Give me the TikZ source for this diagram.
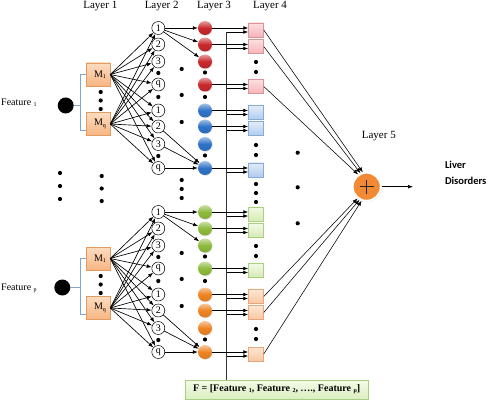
\documentclass[tikz,border=0pt]{standalone}
\usepackage{fontspec}
\setmainfont{Liberation Serif}
\newfontfamily\calib{Carlito}
\usetikzlibrary{arrows.meta,calc,shadows}
\newcommand{\sbs}[1]{\raisebox{-1.3pt}{\fontsize{6}{6}\selectfont #1}}
\definecolor{mbd}{HTML}{E39B63}
\definecolor{mbt}{HTML}{FCDCC0}
\definecolor{mbb}{HTML}{F7B683}
\definecolor{brkc}{HTML}{7EA6D0}
\definecolor{rball}{HTML}{C8282C}
\definecolor{bball}{HTML}{2F73C8}
\definecolor{gball}{HTML}{8DBA3C}
\definecolor{oball}{HTML}{EE8422}
\definecolor{rsd}{HTML}{D9939A}
\definecolor{rst}{HTML}{FCE0E2}
\definecolor{rsb}{HTML}{F5B3B8}
\definecolor{bsd}{HTML}{88AADB}
\definecolor{bst}{HTML}{E1ECFA}
\definecolor{bsb}{HTML}{B2CBEE}
\definecolor{gsd}{HTML}{AACF7E}
\definecolor{gst}{HTML}{F2F9E6}
\definecolor{gsb}{HTML}{D6EBB6}
\definecolor{osd}{HTML}{E9A779}
\definecolor{ost}{HTML}{FDE6D5}
\definecolor{osb}{HTML}{F8C7A2}
\definecolor{lfive}{HTML}{F28A35}
\definecolor{fbd}{HTML}{A6CF82}
\definecolor{fbt}{HTML}{F3FAE6}
\definecolor{fbb}{HTML}{DCEFC1}
\begin{document}
\begin{tikzpicture}[x=1pt,y=-1pt,
  arr/.style={-{Latex[length=5pt,width=3.8pt]}, line width=0.65pt},
  arrt/.style={-{Latex[length=5pt,width=3.8pt]}, line width=0.55pt},
  fdot/.style={circle, fill=black, minimum size=16pt, inner sep=0pt},
  mbox/.style={draw=mbd, line width=0.5pt, top color=mbt, bottom color=mbb,
    minimum width=24pt, minimum height=23pt, inner sep=0pt, font=\fontsize{10}{10}\selectfont},
  ctwo/.style={circle, draw, fill=white, minimum size=13pt, inner sep=0pt,
    line width=0.5pt, font=\fontsize{10}{10}\selectfont},
  ballnode/.style={circle, minimum size=14pt, inner sep=0pt,
    top color=#1!45!white, bottom color=#1!92!black, middle color=#1,
    drop shadow={shadow xshift=0.6pt, shadow yshift=-0.8pt, opacity=0.25}},
  sqr/.style={minimum width=15pt, minimum height=14pt, inner sep=0pt, line width=0.5pt,
    draw=#1d, top color=#1t, bottom color=#1b},
  lbl/.style={font=\fontsize{11}{11}\selectfont},
  ftxt/.style={font=\fontsize{10}{10}\selectfont, inner sep=0pt},
  brk/.style={draw=brkc, line width=0.8pt},
  vline/.style={draw=black!80, line width=0.6pt},
]
\path[fill=white, use as bounding box] (0,0) rectangle (498,409);

% headings
\node[lbl] (h1) at (100.3,6) {Layer 1};
\node[lbl] (h2) at (161.7,6) {Layer 2};
\node[lbl] (h3) at (214,6) {Layer 3};
\node[lbl] (h4) at (270,6) {Layer 4};
\node[lbl] (h5) at (378.8,136) {Layer 5};

% layer 5 and output
\node[circle, fill=lfive, draw=white, line width=1.8pt, minimum size=28pt, inner sep=0pt,
  drop shadow={shadow xshift=0.8pt, shadow yshift=-0.8pt, opacity=0.35}] (L5) at (366.7,186.7) {};
\draw[black!85, line width=0.8pt] (L5.center) ++(-7,0) -- ++(14,0);
\draw[black!85, line width=0.8pt] (L5.center) ++(0,-7) -- ++(0,14);
\coordinate (outend) at (413,186.7);
\draw[arr] (L5.east) -- (outend);
\node[anchor=west, align=left, font=\calib\bfseries\fontsize{10.5}{15.5}\selectfont] (LD) at (441.5,173) {Liver\\Disorders};

% feature vector box
\node[draw=fbd, line width=0.6pt, top color=fbt, bottom color=fbb, minimum width=183pt,
  minimum height=19pt, inner sep=0pt, font=\bfseries\fontsize{10}{10}\selectfont,
  drop shadow={shadow xshift=1pt, shadow yshift=-1pt, opacity=0.2}] (FB) at (276.7,389.5)
  {F = [Feature \sbs{1}, Feature \sbs{2}, …., Feature \sbs{p}]};
\coordinate (vtop) at (226.7,32);
\draw[vline] (vtop) -- (vtop |- FB.north);

\foreach \g/\off/\fy/\fx/\ty/\sub/\cA/\cB/\sA/\sB in
  {a/0/105.5/65.7/102.5/1/rball/bball/rs/bs, b/184/287.5/62.3/288.5/p/gball/oball/gs/os}{
  \node[fdot] (\g F) at (\fx,\fy) {};
  \node[ftxt, anchor=west] (\g FT) at (1,\ty) {Feature \sbs{\sub}};
  \node[mbox] (\g M1) at (98,74.5+\off) {\hspace*{4pt}M\sbs{1}};
  \node[mbox] (\g Mq) at (98,124+\off) {\hspace*{4pt}M\sbs{q}};
  \coordinate (\g BR) at (80.7,\fy);
  \draw[brk] (\g F) -- (\g BR);
  \draw[brk] (\g M1.west) -| (\g BR) |- ($(\g Mq.west)+(0,6)$);
  % layer 2
  \foreach \y/\l [count=\i] in {28/1,44.5/2,61.5/3,84.5/q,110.5/1,126.5/2,144/3,168/q}
    \node[ctwo] (\g L2\i) at (158.3,\y+\off) {\l};
  % layer 3
  \foreach \y [count=\i] in {28,44.5,61.5,84.5}
    \node[ballnode=\cA] (\g L3\i) at (205,\y+\off) {};
  \foreach \y [count=\i from 5] in {110.5,126.5,144,168}
    \node[ballnode=\cB] (\g L3\i) at (205,\y+\off) {};
  % layer 4
  \foreach \i/\y in {1/28,2/44.5,4/84.5}
    \node[sqr=\sA] (\g L4\i) at (256,\y+2+\off) {};
  \foreach \i/\y in {5/110.5,6/126.5,8/168}
    \node[sqr=\sB] (\g L4\i) at (256,\y+2+\off) {};
  % connectors
  \foreach \i in {1,...,8} {
    \draw[arr] (\g M1.east) -- (\g L2\i);
    \draw[arr] (\g Mq.east) -- (\g L2\i);
  }
  \foreach \j in {1,2,3} \draw[arr] (\g L21) -- (\g L3\j);
  \foreach \j in {6,7,8} \draw[arr] (\g L2\j) -- (\g L38);
  \foreach \i in {1,2,4,5,6,8} {
    \draw[arr] (\g L3\i.east) -- (\g L3\i.east -| \g L4\i.west);
    \coordinate (\g B\i) at ($(\g L4\i.west)+(0,2)$);
    \draw[arr] (vtop |- \g B\i) -- (\g B\i);
  }
  % dots
  \foreach \x/\y in {100.7/92,100.7/100.5,100.7/109,158.3/73,158.3/97,158.3/156,
      181.7/69,181.7/95,181.7/122,205/72.5,205/97,205/155.5,256/62,256/72,256/145,256/155}
    \fill (\x,\y+\off) circle (2.1pt);
}

% layer 4 -> layer 5
\draw[arrt] (aL41.east) -- (L5.105);
\draw[arrt] (aL42.east) -- (L5.115);
\draw[arrt] (aL44.east) -- (L5.125);
\draw[arrt] (bL45.east) -- (L5.232);
\draw[arrt] (bL46.east) -- (L5.241);
\draw[arrt] (bL48.east) -- (L5.250);

% dots between groups
\foreach \x/\y in {60/173,60/186,60/199,101.7/176,101.7/188.5,101.7/201,
    181.7/180,181.7/189,181.7/198,256/184,256/193,256/202,
    297.7/152.7,297.7/187.3,297.7/223.3}
  \fill (\x,\y) circle (2.1pt);
\end{tikzpicture}
\end{document}
